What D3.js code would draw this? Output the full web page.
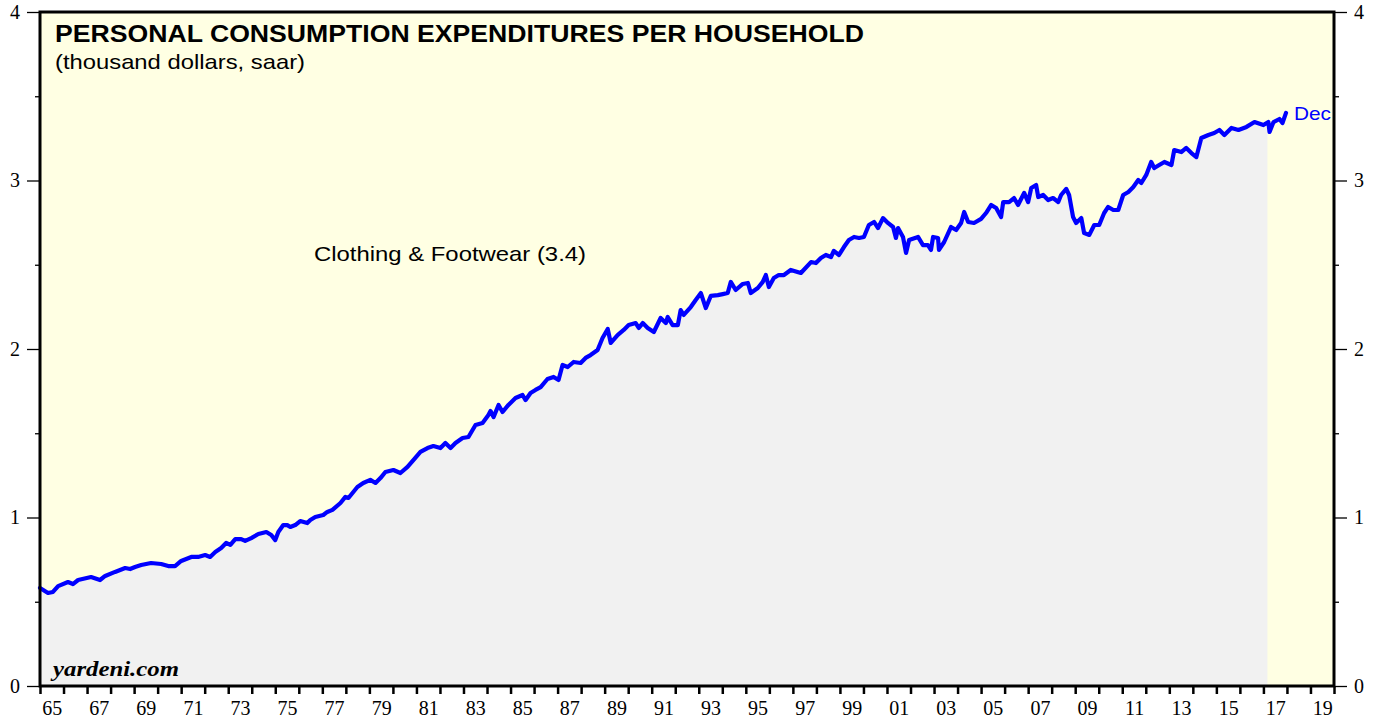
<!DOCTYPE html>
<html>
<head>
<meta charset="utf-8">
<script src="https://cdn.jsdelivr.net/npm/d3@7"></script>
<style>
  body { margin: 0; background: #fff; }
  svg text { font-family: "Liberation Sans", Arial, sans-serif; }
  .tick-label { font-family: "Liberation Serif", "Times New Roman", serif; font-size: 20px; }
</style>
</head>
<body>
<div id="chart"></div>
<script>
// decimal years and values (thousand dollars)
const years = [
  1965.00, 1965.34, 1965.55, 1965.77, 1966.19, 1966.40, 1966.62, 1967.17, 1967.55, 1967.77,
  1968.19, 1968.62, 1968.83, 1969.04, 1969.30, 1969.72, 1970.15, 1970.45, 1970.74, 1971.00,
  1971.43, 1971.72, 1972.02, 1972.23, 1972.45, 1972.70, 1972.91, 1973.09, 1973.30, 1973.55,
  1973.72, 1973.98, 1974.28, 1974.62, 1974.83, 1975.00, 1975.13, 1975.34, 1975.51, 1975.64,
  1975.85, 1976.06, 1976.36, 1976.49, 1976.70, 1977.04, 1977.21, 1977.43, 1977.77, 1977.98,
  1978.11, 1978.49, 1978.74, 1979.04, 1979.26, 1979.47, 1979.68, 1980.02, 1980.32, 1980.62,
  1980.87, 1981.17, 1981.47, 1981.72, 1982.02, 1982.23, 1982.45, 1982.66, 1982.96, 1983.21,
  1983.51, 1983.81, 1984.06, 1984.15, 1984.28, 1984.49, 1984.66, 1984.91, 1985.21, 1985.51,
  1985.64, 1985.85, 1986.06, 1986.28, 1986.57, 1986.83, 1987.04, 1987.21, 1987.43, 1987.68,
  1987.98, 1988.19, 1988.40, 1988.70, 1988.91, 1989.13, 1989.26, 1989.55, 1989.81, 1990.02,
  1990.32, 1990.45, 1990.62, 1990.83, 1991.09, 1991.38, 1991.60, 1991.68, 1991.89, 1992.11,
  1992.23, 1992.36, 1992.66, 1992.87, 1993.09, 1993.30, 1993.51, 1993.81, 1994.02, 1994.23,
  1994.36, 1994.57, 1994.87, 1995.09, 1995.21, 1995.51, 1995.72, 1995.85, 1995.98, 1996.19,
  1996.40, 1996.62, 1996.91, 1997.34, 1997.77, 1997.98, 1998.19, 1998.40, 1998.62, 1998.74,
  1998.96, 1999.17, 1999.38, 1999.60, 1999.81, 2000.02, 2000.23, 2000.45, 2000.62, 2000.83,
  2001.04, 2001.26, 2001.38, 2001.47, 2001.68, 2001.81, 2001.94, 2002.32, 2002.53, 2002.74,
  2002.87, 2002.96, 2003.17, 2003.21, 2003.43, 2003.72, 2003.94, 2004.15, 2004.28, 2004.45,
  2004.70, 2005.00, 2005.21, 2005.43, 2005.64, 2005.85, 2005.94, 2006.19, 2006.40, 2006.57,
  2006.83, 2007.00, 2007.13, 2007.34, 2007.43, 2007.64, 2007.85, 2008.06, 2008.28, 2008.40,
  2008.62, 2008.74, 2008.91, 2009.04, 2009.26, 2009.38, 2009.60, 2009.81, 2010.02, 2010.23,
  2010.40, 2010.62, 2010.83, 2011.04, 2011.26, 2011.47, 2011.68, 2011.81, 2012.02, 2012.23,
  2012.36, 2012.57, 2012.79, 2013.09, 2013.21, 2013.51, 2013.72, 2013.94, 2014.15, 2014.36,
  2014.66, 2014.91, 2015.13, 2015.34, 2015.64, 2015.94, 2016.28, 2016.62, 2017.00, 2017.21,
  2017.26, 2017.43, 2017.68, 2017.81, 2017.96
];
const clothing = [
  0.582, 0.552, 0.558, 0.593, 0.617, 0.605, 0.629, 0.647, 0.629, 0.653,
  0.677, 0.700, 0.694, 0.706, 0.718, 0.730, 0.724, 0.712, 0.712, 0.742,
  0.766, 0.766, 0.777, 0.766, 0.795, 0.819, 0.849, 0.837, 0.872, 0.872,
  0.861, 0.878, 0.902, 0.914, 0.896, 0.866, 0.914, 0.955, 0.955, 0.944,
  0.955, 0.979, 0.967, 0.985, 1.003, 1.015, 1.033, 1.045, 1.086, 1.122,
  1.116, 1.181, 1.205, 1.223, 1.205, 1.234, 1.270, 1.282, 1.264, 1.300,
  1.341, 1.389, 1.412, 1.424, 1.412, 1.442, 1.412, 1.442, 1.472, 1.478,
  1.549, 1.561, 1.608, 1.632, 1.596, 1.668, 1.626, 1.668, 1.709, 1.727,
  1.697, 1.739, 1.757, 1.774, 1.822, 1.834, 1.816, 1.905, 1.893, 1.923,
  1.917, 1.947, 1.964, 1.994, 2.065, 2.119, 2.036, 2.083, 2.113, 2.142,
  2.154, 2.125, 2.154, 2.125, 2.101, 2.184, 2.154, 2.190, 2.142, 2.142,
  2.231, 2.202, 2.249, 2.291, 2.332, 2.243, 2.315, 2.320, 2.326, 2.332,
  2.398, 2.350, 2.386, 2.392, 2.332, 2.362, 2.398, 2.439, 2.368, 2.421,
  2.439, 2.439, 2.469, 2.451, 2.516, 2.510, 2.540, 2.558, 2.546, 2.582,
  2.558, 2.605, 2.647, 2.665, 2.659, 2.665, 2.736, 2.754, 2.718, 2.777,
  2.748, 2.724, 2.659, 2.718, 2.665, 2.570, 2.647, 2.665, 2.617, 2.617,
  2.588, 2.665, 2.659, 2.588, 2.635, 2.724, 2.706, 2.748, 2.813, 2.754,
  2.748, 2.772, 2.807, 2.855, 2.837, 2.783, 2.872, 2.872, 2.896, 2.855,
  2.926, 2.872, 2.955, 2.973, 2.902, 2.914, 2.884, 2.896, 2.872, 2.914,
  2.950, 2.914, 2.783, 2.748, 2.777, 2.688, 2.677, 2.736, 2.736, 2.807,
  2.843, 2.825, 2.825, 2.914, 2.932, 2.961, 3.003, 2.985, 3.033, 3.110,
  3.074, 3.092, 3.110, 3.092, 3.181, 3.169, 3.193, 3.163, 3.139, 3.252,
  3.270, 3.282, 3.300, 3.270, 3.312, 3.300, 3.318, 3.347, 3.329, 3.347,
  3.288, 3.347, 3.365, 3.341, 3.401
];
const shadeEnd = 2017.17;           // grey fill stops here
const yTicks = [0, 1, 2, 3, 4];
const yMinor = [0.5, 1.5, 2.5, 3.5];
const xLabelYears = d3.range(1965, 2020, 2);
const xTickYears = d3.range(1965, 2021, 1);

const data = years.map((y, i) => ({ year: y, value: clothing[i] }));

const W = 1382, H = 719;
const margin = { top: 12, right: 48, bottom: 33, left: 40 };
const width = W - margin.left - margin.right;
const height = H - margin.top - margin.bottom;

const svg = d3.select("#chart").append("svg")
  .attr("width", W).attr("height", H);

const g = svg.append("g")
  .attr("transform", `translate(${margin.left},${margin.top})`);

const x = d3.scaleLinear().domain([1965, 2020]).range([0, width]);
const y = d3.scaleLinear().domain([0, 4]).range([height, 0]);

// background
g.append("rect")
  .attr("width", width).attr("height", height)
  .attr("fill", "#ffffe3");

// grey area under line
const shaded = data.filter(d => d.year <= shadeEnd);
const last = shaded[shaded.length - 1];
const nxt = data[shaded.length];
const tEnd = (shadeEnd - last.year) / (nxt.year - last.year);
shaded.push({ year: shadeEnd, value: last.value + tEnd * (nxt.value - last.value) });

g.append("path")
  .datum(shaded)
  .attr("fill", "#f1f1f1")
  .attr("d", d3.area().x(d => x(d.year)).y0(y(0)).y1(d => y(d.value)));

// line
g.append("path")
  .datum(data)
  .attr("fill", "none")
  .attr("stroke", "#0000ff")
  .attr("stroke-width", 4.2)
  .attr("stroke-linejoin", "round")
  .attr("stroke-linecap", "round")
  .attr("d", d3.line().x(d => x(d.year)).y(d => y(d.value)));

// === Axes ===
const yLeft = g.append("g")
  .call(d3.axisLeft(y).tickValues(yTicks).tickSize(13).tickPadding(7).tickFormat(d3.format("d")));
const yRight = g.append("g")
  .attr("transform", `translate(${width},0)`)
  .call(d3.axisRight(y).tickValues(yTicks).tickSize(13).tickPadding(7).tickFormat(d3.format("d")));
const yLeftMinor = g.append("g")
  .call(d3.axisLeft(y).tickValues(yMinor).tickSize(5).tickFormat(""));
const yRightMinor = g.append("g")
  .attr("transform", `translate(${width},0)`)
  .call(d3.axisRight(y).tickValues(yMinor).tickSize(5).tickFormat(""));
const xAxis = g.append("g")
  .attr("transform", `translate(0,${height})`)
  .call(d3.axisBottom(x).tickValues(xTickYears).tickSize(8).tickFormat(""));
const xLabels = g.append("g")
  .attr("transform", `translate(0,${height})`)
  .call(d3.axisBottom(x).tickValues(xLabelYears.map(v => v + 0.5)).tickSize(0).tickPadding(15)
    .tickFormat(v => String(Math.floor(v) % 100).padStart(2, "0")));

[yLeft, yRight, yLeftMinor, yRightMinor, xAxis, xLabels].forEach(a => {
  a.select(".domain").remove();
  a.selectAll("line").attr("stroke", "#000").attr("stroke-width", 1.3);
  a.selectAll("text").attr("class", "tick-label").attr("fill", "#000");
});
xAxis.selectAll("line").attr("stroke-width", 2.5);

// frame
g.append("rect")
  .attr("width", width).attr("height", height)
  .attr("fill", "none").attr("stroke", "#000").attr("stroke-width", 3);

// === Labels ===
g.append("text")
  .attr("x", 15).attr("y", 30)
  .attr("textLength", 809).attr("lengthAdjust", "spacingAndGlyphs")
  .style("font-size", "24px").style("font-weight", "bold")
  .text("PERSONAL CONSUMPTION EXPENDITURES PER HOUSEHOLD");

g.append("text")
  .attr("x", 15).attr("y", 57)
  .attr("textLength", 250).attr("lengthAdjust", "spacingAndGlyphs")
  .style("font-size", "21px")
  .text("(thousand dollars, saar)");

g.append("text")
  .attr("x", 274).attr("y", 249)
  .attr("textLength", 272).attr("lengthAdjust", "spacingAndGlyphs")
  .style("font-size", "21px")
  .text("Clothing & Footwear (3.4)");

g.append("text")
  .attr("x", x(2017.96) + 8).attr("y", y(3.4) + 7)
  .attr("textLength", 37).attr("lengthAdjust", "spacingAndGlyphs")
  .attr("fill", "#0000ff")
  .style("font-size", "19px")
  .text("Dec");

g.append("text")
  .attr("x", 13).attr("y", 664)
  .attr("textLength", 126).attr("lengthAdjust", "spacingAndGlyphs")
  .style("font-family", "'Liberation Serif', 'Times New Roman', serif")
  .style("font-size", "21px").style("font-weight", "bold").style("font-style", "italic")
  .text("yardeni.com");
</script>
</body>
</html>
